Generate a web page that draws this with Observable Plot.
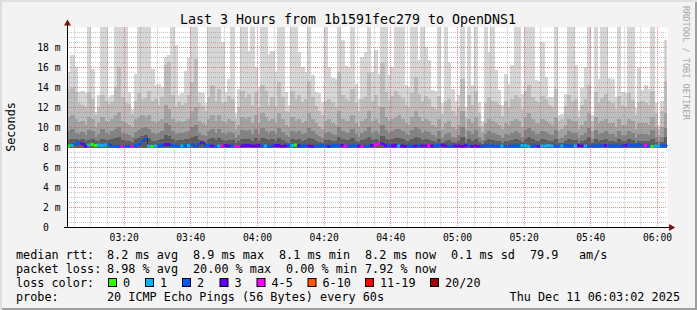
<!DOCTYPE html>
<html><head><meta charset="utf-8">
<script src="https://cdn.jsdelivr.net/npm/d3@7"></script>
<script src="https://cdn.jsdelivr.net/npm/@observablehq/plot@0.6"></script>
<style>
html,body{margin:0;padding:0;background:#f3f3f3;}
#wrap{position:relative;width:697px;height:310px;background:#f3f3f3;overflow:hidden;
 box-shadow: inset 2px 2px 0 #dedede, inset -2px -2px 0 #9e9e9e;}
#wrap svg{position:absolute;left:0;top:0;overflow:visible;}
#wm{position:absolute;left:681px;top:6px;writing-mode:vertical-rl;font-family:"DejaVu Sans Mono",monospace;
 font-size:8.6px;line-height:10px;color:#a8a8a8;white-space:pre;}
</style></head><body><div id="wrap"></div>
<script>
// ---- data (ms); one sample per minute starting 03:03 ----
const startMin = 183; // 03:03 in minutes after midnight
const maxPing = [15.5,17.2,16,13.5,13.6,13.4,20,15.8,11.5,13.2,20,20,13,13.2,20,20,20,20,13.5,11.8,15.3,20,20,20,20,15.8,14.2,14.3,14,17,17.2,20,18.2,13.2,13.4,15.6,
16.9,20,20,13.5,13.4,12.4,20,20,20,20,18.5,13.5,14.8,20,11.4,13.8,20,20,17.6,20,16,14,20,20,17.3,17.6,15.5,20,20,13.5,12.2,20,20,17.5,16,15.5,
20,15.2,13.5,13.4,12.5,20,16,14.9,14.8,20,18.7,16.1,16,20,14.3,12.8,17,17.5,20,15.5,17.7,15.3,20,20,15.2,16,20,20,20,14.2,14,20,20,16.7,20,18,
16.7,13.7,13.6,20,12.4,20,16.5,13.8,12.6,13.2,20,12,20,14.2,20,12.5,10.6,20,17.5,20,15.7,13.7,12.2,15.3,14.3,16.2,20,20,13.3,20,20,20,14.7,14.6,18.5,15,
13,13,20,11.2,11.3,13.3,20,20,16.2,11.7,13.9,16,20,11.2,20,14.8,20,20,14.9,14.8,13,20,13.5,13.4,20,20,11.9,15.9,13.7,14.2,13.8,20,12.4,10.2,12.6,18.7];
const band2 = [13.8,13.9,13.5,12.4,12.2,12.0,13.5,12.8,11.2,12.0,13.2,12.6,12.3,12.5,14.0,16.0,13.0,12.4,12.3,11.3,12.6,13.4,12.8,12.9,13.6,12.6,12.8,12.2,13.0,16.2,16.5,13.2,12.0,12.5,12.2,12.4,
13.2,14.5,16.8,12.4,12.1,11.6,13.0,14.2,12.6,13.8,12.4,12.5,13.1,12.8,10.8,12.0,13.6,12.9,13.3,12.2,13.5,12.0,14.2,13.6,12.2,13.0,12.1,14.5,13.0,11.6,11.5,13.6,12.8,13.2,12.5,12.8,
14.6,13.0,12.1,11.6,11.2,12.6,12.8,12.5,12.0,15.5,13.2,12.8,12.6,13.8,12.4,11.6,12.8,13.0,15.4,12.6,13.2,12.1,16.4,13.5,12.7,13.1,13.6,13.2,12.9,12.2,12.0,13.4,15.0,13.3,12.6,13.1,
12.8,12.0,11.8,13.1,11.3,12.6,12.8,11.6,11.2,12.0,14.8,11.0,13.2,12.2,13.6,11.4,10.1,12.4,13.0,12.6,12.5,12.2,11.1,12.6,12.0,12.8,13.2,12.9,11.8,13.6,14.2,13.0,12.6,12.4,13.1,12.8,
12.2,12.0,13.8,10.6,10.8,12.1,13.2,12.6,12.8,11.0,12.2,12.8,14.2,10.6,13.5,12.4,12.9,13.3,12.6,12.4,11.8,13.1,12.2,12.0,13.4,12.7,11.2,12.5,12.6,12.4,12.2,13.6,11.4,9.8,11.6,14.6];
const band3 = [11.0,11.2,10.8,10.5,10.6,10.2,11.0,10.8,10.0,10.4,11.0,10.6,10.5,10.8,11.2,11.5,10.6,10.4,10.2,10.0,10.8,11.0,11.2,11.0,11.2,10.6,10.4,10.6,10.8,12.2,11.8,10.8,10.4,10.6,10.5,10.6,
10.8,11.6,12.0,10.6,10.4,10.2,10.8,11.2,10.6,11.2,10.6,10.4,10.8,10.6,9.8,10.2,11.0,10.8,11.0,10.4,11.2,10.4,11.4,11.0,10.6,10.8,10.4,11.4,10.8,10.2,10.0,11.0,10.6,10.8,10.4,10.6,
11.4,10.8,10.4,10.0,9.8,10.6,10.8,10.4,10.2,11.6,10.8,10.6,10.6,11.2,10.4,10.0,10.6,10.8,11.6,10.6,10.8,10.4,12.0,11.0,10.6,10.8,11.0,11.2,10.8,10.4,10.2,11.0,11.6,11.0,10.6,10.8,
10.6,10.2,10.0,10.8,9.8,10.4,10.6,10.0,9.8,10.2,11.6,9.8,10.8,10.4,11.0,10.0,9.4,10.4,10.8,10.6,10.4,10.2,9.8,10.4,10.2,10.6,10.8,10.6,10.0,11.0,11.4,10.8,10.4,10.4,10.8,10.6,
10.4,10.2,11.0,9.6,9.8,10.2,10.8,10.6,10.6,9.8,10.2,10.6,11.4,9.6,11.0,10.4,10.6,10.8,10.4,10.4,10.0,10.8,10.2,10.2,10.8,10.6,9.8,10.4,10.4,10.4,10.2,11.0,10.0,9.2,10.0,11.4];
const band4 = [9.6,9.8,9.4,9.3,9.5,9.2,9.7,9.6,9.0,9.3,9.8,9.4,9.3,9.6,9.8,10.0,9.4,9.3,9.2,9.0,9.5,9.7,9.9,10.0,9.8,9.4,9.3,9.4,9.6,10.4,10.2,9.6,9.3,9.4,9.4,9.5,
9.6,10.0,10.2,9.4,9.2,9.1,9.6,9.8,9.4,9.8,9.4,9.3,9.5,9.4,8.9,9.2,9.7,9.6,9.7,9.3,9.8,9.3,9.9,9.6,9.4,9.6,9.3,9.9,9.5,9.2,9.0,9.6,9.4,9.6,9.3,9.4,
9.9,9.6,9.3,9.1,8.9,9.4,9.5,9.3,9.2,10.0,9.6,9.4,9.4,9.8,9.3,9.0,9.4,9.6,10.0,9.4,9.6,9.3,10.2,9.7,9.4,9.6,9.8,9.8,9.6,9.3,9.2,9.7,10.0,9.8,9.4,9.6,
9.5,9.2,9.0,9.6,8.9,9.3,9.4,9.0,8.9,9.2,10.0,8.9,9.6,9.3,9.7,9.0,8.7,9.3,9.6,9.4,9.3,9.2,8.9,9.3,9.2,9.4,9.6,9.4,9.0,9.7,9.9,9.6,9.3,9.3,9.6,9.5,
9.3,9.2,9.7,8.8,8.9,9.2,9.6,9.4,9.4,8.9,9.2,9.4,9.9,8.8,9.7,9.3,9.4,9.6,9.3,9.3,9.0,9.6,9.2,9.2,9.6,9.4,8.9,9.3,9.3,9.3,9.2,9.7,9.0,8.6,9.0,9.9];
const band5 = [8.7,8.8,8.8,8.7,8.8,8.6,8.7,8.8,8.6,8.6,8.8,8.7,8.7,8.8,8.9,9.0,8.7,8.6,8.6,8.5,8.8,8.9,9.1,9.2,8.9,8.6,8.6,8.7,8.8,9.2,9.1,8.8,8.6,8.7,8.7,8.8,
8.8,9.0,9.1,8.7,8.6,8.5,8.8,8.9,8.7,8.9,8.7,8.6,8.7,8.7,8.4,8.6,8.8,8.8,8.8,8.6,8.9,8.6,8.9,8.8,8.7,8.8,8.6,8.9,8.7,8.5,8.4,8.8,8.7,8.8,8.6,8.7,
8.9,8.8,8.6,8.5,8.4,8.7,8.7,8.6,8.6,9.0,8.8,8.7,8.7,8.9,8.6,8.5,8.7,8.8,9.0,8.7,8.8,8.6,9.1,8.8,8.7,8.8,8.9,8.9,8.8,8.6,8.6,8.8,9.0,8.9,8.7,8.8,
8.7,8.6,8.5,8.8,8.4,8.6,8.7,8.5,8.4,8.6,9.0,8.4,8.8,8.6,8.8,8.5,8.3,8.6,8.8,8.7,8.6,8.6,8.4,8.6,8.6,8.7,8.8,8.7,8.5,8.8,9.0,8.8,8.6,8.6,8.8,8.7,
8.6,8.6,8.8,8.4,8.4,8.6,8.8,8.7,8.7,8.4,8.6,8.7,9.0,8.4,8.8,8.6,8.7,8.8,8.6,8.6,8.5,8.8,8.6,8.6,8.8,8.7,8.4,8.6,8.6,8.6,8.6,8.8,8.5,8.3,8.5,9.0];
const median = [8.15,8.2,8.4,8.45,8.4,8.1,8.25,8.3,8.2,8.25,8.2,8.25,8.35,8.1,8.1,8.1,8.1,8.1,8.1,8.1,8.2,8.3,8.6,8.9,8.15,8.1,8.15,8.15,8.2,8.3,8.3,8.2,8.15,8.1,8.15,8.15,
8.2,8.3,8.1,8.35,8.5,8.15,8.2,8.15,8.1,8.15,8.15,8.2,8.15,8.15,8.1,8.1,8.15,8.2,8.2,8.15,8.15,8.2,8.15,8.15,8.1,8.15,8.2,8.2,8.1,8.15,8.2,8.2,8.25,8.15,8.15,8.15,
8.15,8.1,8.1,8.15,8.2,8.15,8.1,8.15,8.2,8.15,8.2,8.15,8.1,8.2,8.15,8.15,8.1,8.1,8.15,8.2,8.25,8.4,8.4,8.2,8.15,8.15,8.2,8.15,8.15,8.1,8.15,8.1,8.15,8.15,8.15,8.15,
8.2,8.15,8.15,8.2,8.25,8.15,8.1,8.15,8.15,8.15,8.1,8.2,8.15,8.1,8.15,8.1,8.1,8.15,8.15,8.2,8.1,8.15,8.15,8.1,8.1,8.15,8.15,8.15,8.2,8.2,8.1,8.1,8.15,8.1,8.15,8.15,
8.2,8.15,8.15,8.1,8.15,8.2,8.15,8.15,8.15,8.2,8.15,8.15,8.1,8.15,8.15,8.15,8.2,8.2,8.15,8.15,8.2,8.1,8.15,8.2,8.25,8.2,8.15,8.3,8.15,8.2,8.15,8.1,8.15,8.15,8.15,8.2];
const lostPings = [0,1,2,2,3,3,1,0,0,1,1,1,2,2,2,2,4,2,2,4,2,2,2,2,1,0,1,2,2,3,3,2,2,2,1,2,
1,2,2,2,3,2,2,3,2,1,4,3,3,2,4,4,3,3,3,3,3,3,2,1,2,2,3,3,3,3,2,1,0,3,2,2,
3,3,2,2,2,2,3,2,2,2,3,4,2,2,2,3,4,2,2,3,4,4,3,3,2,3,3,1,3,3,2,2,3,2,3,3,
4,3,2,2,3,3,2,2,3,3,3,3,2,3,3,3,2,2,2,2,2,2,1,2,2,2,2,2,1,1,1,2,2,3,1,1,
1,1,2,2,1,2,2,2,1,3,3,1,2,2,2,2,2,3,2,2,2,2,2,3,2,2,2,2,2,4,2,0,1,1,2,2];

const lossLabels = ["0","1","2","3","4-5","6-10","11-19","20/20"];
const lossColors = ["#26ff00","#00b8ff","#0059ff","#5e00ff","#ff00ff","#ff5500","#ff0000","#a10000"];
const bandColors = ["#d6d6d6","#bdbdbd","#a2a2a2","#838383","#5c5c5c"];
const yTicks = [0,2,4,6,8,10,12,14,16,18];
const xTicks = [200,220,240,260,280,300,320,340,360];

const statsRtt = ["median rtt:","8.2 ms avg","8.9 ms max","8.1 ms min","8.2 ms now","0.1 ms sd","79.9","am/s"];
const statsLoss = ["packet loss:","8.98 % avg","20.00 % max","0.00 % min","7.92 % now"];
const probeText = ["probe:","20 ICMP Echo Pings (56 Bytes) every 60s","Thu Dec 11 06:03:02 2025"];
const title = "Last 3 Hours from 1b1591fec279 to OpenDNS1";
const watermark = "RRDTOOL / TOBI OETIKER";

function lossIndex(n){ return n<=3 ? n : n<=5 ? 4 : n<=10 ? 5 : n<=19 ? 6 : 7; }
const hhmm = m => String(Math.floor(m/60)).padStart(2,"0")+":"+String(m%60).padStart(2,"0");

const rows = maxPing.map((v,i)=>({t:startMin+i, b:[v,band2[i],band3[i],band4[i],band5[i]], med:median[i], loss:lostPings[i]}));
const medLine = rows.map(d=>({t:d.t, med:d.med})).concat([{t:startMin+rows.length, med:median[median.length-1]}]);
const endMin = startMin + rows.length;
const minorY = d3.range(0.5, 20, 0.5).filter(v => v % 2 !== 0);
const minorX = d3.range(185, endMin, 5).filter(m => m % 20 !== 0);

const grid = {strokeDasharray:"1,1", shapeRendering:"crispEdges"};
const chart = Plot.plot({
  width: 697, height: 310,
  marginLeft: 67, marginRight: 30, marginTop: 27, marginBottom: 83,
  x: {domain:[startMin, endMin], label:null},
  y: {domain:[0,20], label:null},
  color: {type:"identity"},
  style: {background:"transparent", fontFamily:"DejaVu Sans Mono", fontSize:"9.7px", color:"#000", overflow:"visible"},
  marks: [
    Plot.frame({fill:"#fff", stroke:"none"}),
    ...bandColors.map((c,k)=>Plot.rect(rows, {x1:"t", x2:d=>Math.min(d.t+1.25, endMin), y1:7.95, y2:d=>d.b[k], fill:c, shapeRendering:"crispEdges"})),
    Plot.line(medLine, {x:"t", y:"med", curve:"step-after", stroke:"#202020", strokeWidth:1}),
    Plot.ruleY(rows, {x1:"t", x2:d=>d.t+1, y:"med", stroke:d=>lossColors[lossIndex(d.loss)], strokeWidth:3}),
    Plot.ruleY(minorY, {stroke:"#808080", strokeOpacity:0.45, ...grid}),
    Plot.ruleX(minorX, {stroke:"#808080", strokeOpacity:0.45, ...grid}),
    Plot.ruleY(yTicks.filter(v=>v>0), {stroke:"#e03c3c", strokeOpacity:0.6, ...grid}),
    Plot.ruleX(xTicks, {stroke:"#e03c3c", strokeOpacity:0.6, ...grid}),
    Plot.ruleY([0], {x1:startMin-0.9, x2:endMin+1.2, stroke:"#000"}),
    Plot.ruleX([startMin], {y1:0, y2:20.35, stroke:"#000"}),
    Plot.dot([{x:startMin, y:20.4}], {x:"x", y:"y", symbol:"triangle", r:2.6, fill:"#7a1010", stroke:"none"}),
    Plot.dot([{x:endMin+1.1, y:0}], {x:"x", y:"y", symbol:"triangle", r:2.6, rotate:90, fill:"#7a1010", stroke:"none"}),
    Plot.axisY(yTicks, {tickSize:0, tickPadding:7, tickFormat:d => d===0 ? "0\u00a0\u00a0" : d+" m"}),
    Plot.axisX(xTicks, {tickSize:0, tickPadding:7, tickFormat:hhmm})
  ]
});
const wrap = document.getElementById("wrap");
wrap.appendChild(chart);
const wm = document.createElement("div");
wm.id = "wm"; wm.textContent = watermark;
wrap.appendChild(wm);

// ---- title, legend, labels ----
const g = d3.select(chart).append("g").style("font-family","DejaVu Sans Mono").attr("fill","#000");
function txt(x,y,s,size,anchor){
  return g.append("text").attr("x",x).attr("y",y).style("font-size",size+"px").attr("text-anchor",anchor||"start")
    .style("white-space","pre").text(s);
}
txt(348, 24.3, title, 13.3, "middle");
g.append("text").attr("transform","translate(15,127) rotate(-90)").style("font-size","11.8px").attr("text-anchor","middle").text("Seconds");

const LF = 11.8;
const rttX = [16,107,193,279,365,451,530,579];
statsRtt.forEach((s,i)=>txt(rttX[i], 259, s, LF));
const lossX = [16,107,193,286,365];
statsLoss.forEach((s,i)=>txt(lossX[i], 273, s, LF));
txt(16, 287, "loss color:", LF);
const boxX = [108,145,182,219.5,256.5,307.5,365,430];
lossLabels.forEach((s,i)=>{
  g.append("rect").attr("x",boxX[i]+0.5).attr("y",278.5).attr("width",8).attr("height",8)
    .attr("fill",lossColors[i]).attr("stroke","#000").attr("stroke-width",1);
  txt(boxX[i]+15, 287, s, LF);
});
txt(16, 301, probeText[0], LF);
txt(107, 301, probeText[1], LF);
txt(680, 301, probeText[2], LF, "end");
</script></body></html>
